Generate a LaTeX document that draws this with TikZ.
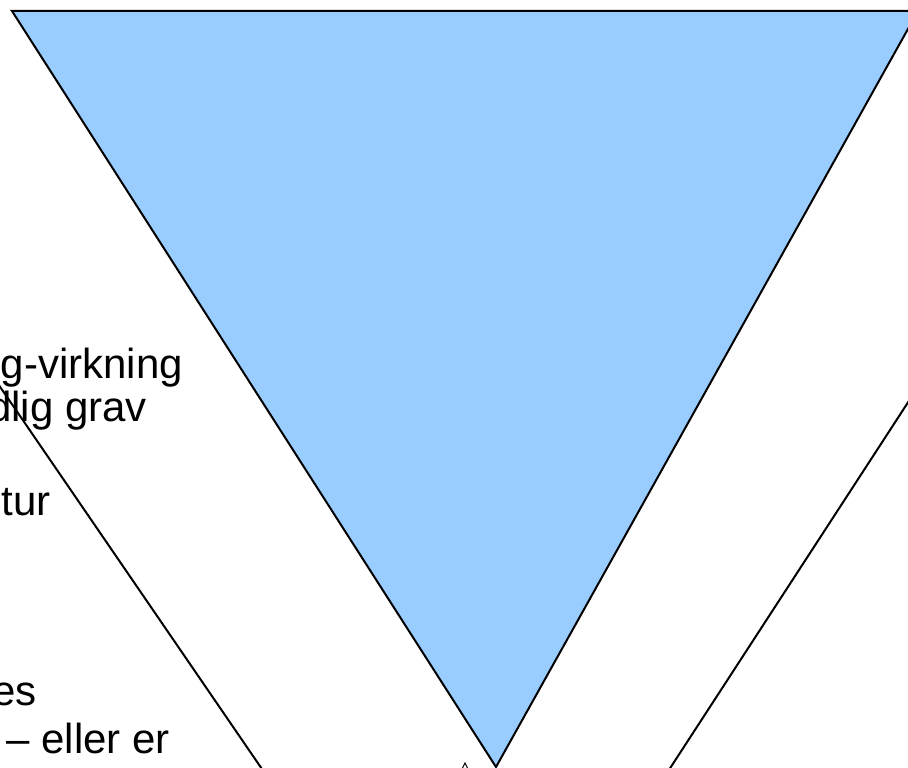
\documentclass[tikz,border=0pt]{standalone}
\usepackage{fontspec}
\setmainfont{Liberation Sans}
\usetikzlibrary{positioning}
\definecolor{FunnelBlue}{HTML}{99CCFF}
\definecolor{FunnelInk}{HTML}{000000}

\begin{document}
\begin{tikzpicture}[
    x=1pt, y=-1pt,
    font=\fontsize{42}{48}\selectfont,
    funnel/.style={
        draw=FunnelInk,
        fill=FunnelBlue,
        line width=2pt,
        line join=miter
    },
    rim/.style={draw=FunnelInk, line width=2pt},
    cut text/.style={anchor=base east, inner sep=0pt, text=FunnelInk}
]
    \useasboundingbox (0,0) rectangle (908,768);
    \clip (0,0) rectangle (908,768);

    % text that runs in from the left edge
    \node[cut text] (virkning) at (183,378) {g-virkning};
    \node[cut text] (grav) at (147,421) {dlig grav};
    \node[cut text] (tur) at (51,515) {tur};
    \node[cut text] (es) at (37,705) {es};
    \node[cut text] (eller) at (170,753) {– eller er};

    % the funnel
    \coordinate (topL) at (12,11);
    \coordinate (topR) at (918,11);
    \coordinate (tip) at (496,767);
    \filldraw[funnel] (topL) -- (topR) -- (tip) -- cycle;

    % side lines
    \coordinate (leftA) at (-6,378);
    \coordinate (leftB) at (264,772);
    \draw[rim] (leftA) -- (leftB);

    \coordinate (rightA) at (918,387);
    \coordinate (rightB) at (665,776);
    \draw[rim] (rightA) -- (rightB);

    \coordinate (markL) at (462,769);
    \coordinate (markT) at (465,763);
    \coordinate (markR) at (468,769);
    \draw[FunnelInk, line width=1pt] (markL) -- (markT) -- (markR);
\end{tikzpicture}
\end{document}
